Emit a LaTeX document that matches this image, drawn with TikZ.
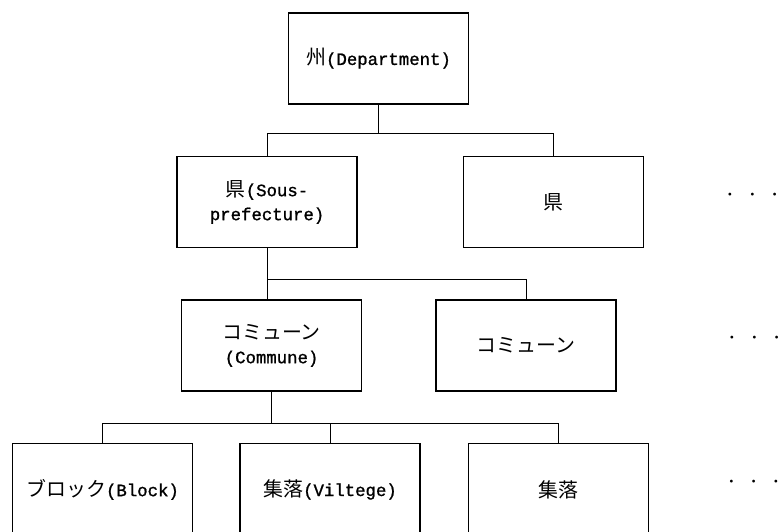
\documentclass[tikz,border=0pt]{standalone}
\usepackage{fontspec}
\setmainfont{Liberation Mono}[FakeBold=1.2]
\newfontfamily\jp{Noto Sans CJK JP}[Scale=1.15]
\usetikzlibrary{positioning}

\newcommand{\threedots}{$\cdot$\hspace{11pt}$\cdot$\hspace{11pt}$\cdot$}

\begin{document}
\begin{tikzpicture}[x=0.75pt, y=-0.75pt,
        node distance = 38.25pt,
        box/.style = {draw, line width=1.1pt, align=center,
            minimum width=135pt, minimum height=68.25pt, inner sep=0pt,
            font=\fontsize{13}{18}\selectfont},
        lowbox/.style = {box, minimum height=69pt},
        link/.style = {line width=0.8pt},
        more/.style = {inner sep=0pt, font=\fontsize{20}{20}\selectfont}]
        \useasboundingbox (0,0) rectangle (780,531);
        \node[box] (dep) at (378.5,58.5) {{\jp 州}(Department)};
        \node[box, below=of dep, xshift=-83.6pt] (sp) {{\jp 県}(Sous-\\prefecture)};
        \node[box, right=78.75pt of sp] (sp2) {{\jp 県}};
        \node[box, below=of sp, xshift=3.4pt] (com) {{\jp コミューン}\\(Commune)};
        \node[box, right=54.75pt of com] (com2) {{\jp コミューン}};
        \node[lowbox, below=of com, xshift=-126.75pt] (blk) {{\jp ブロック}(Block)};
        \node[lowbox, right=34.5pt of blk] (vil) {{\jp 集落}(Viltege)};
        \node[lowbox, right=35.25pt of vil] (vil2) {{\jp 集落}};
        \node[more, right=61.3pt of sp2, yshift=5pt] (etc1) {\threedots};
        \node[more, right=83.4pt of com2, yshift=5.25pt] (etc2) {\threedots};
        \node[more, right=58.5pt of vil2, yshift=5.25pt] (etc3) {\threedots};
        % tree links
        \draw[link] (dep.south) -- ++(0,-21.75pt) coordinate (j1);
        \draw[link] (sp.north) |- (j1) -| (sp2.north);
        \draw[link] (sp.south) -- ++(0,-23.25pt) coordinate (j2) -| (com2.north);
        \draw[link] (j2) -- (j2 |- com.north);
        \draw[link] (com.south) -- ++(0,-24pt) coordinate (j3);
        \draw[link] (blk.north) |- (j3) -| (vil2.north);
        \draw[link] (j3 -| vil.north) -- (vil.north);
    \end{tikzpicture}
\end{document}
